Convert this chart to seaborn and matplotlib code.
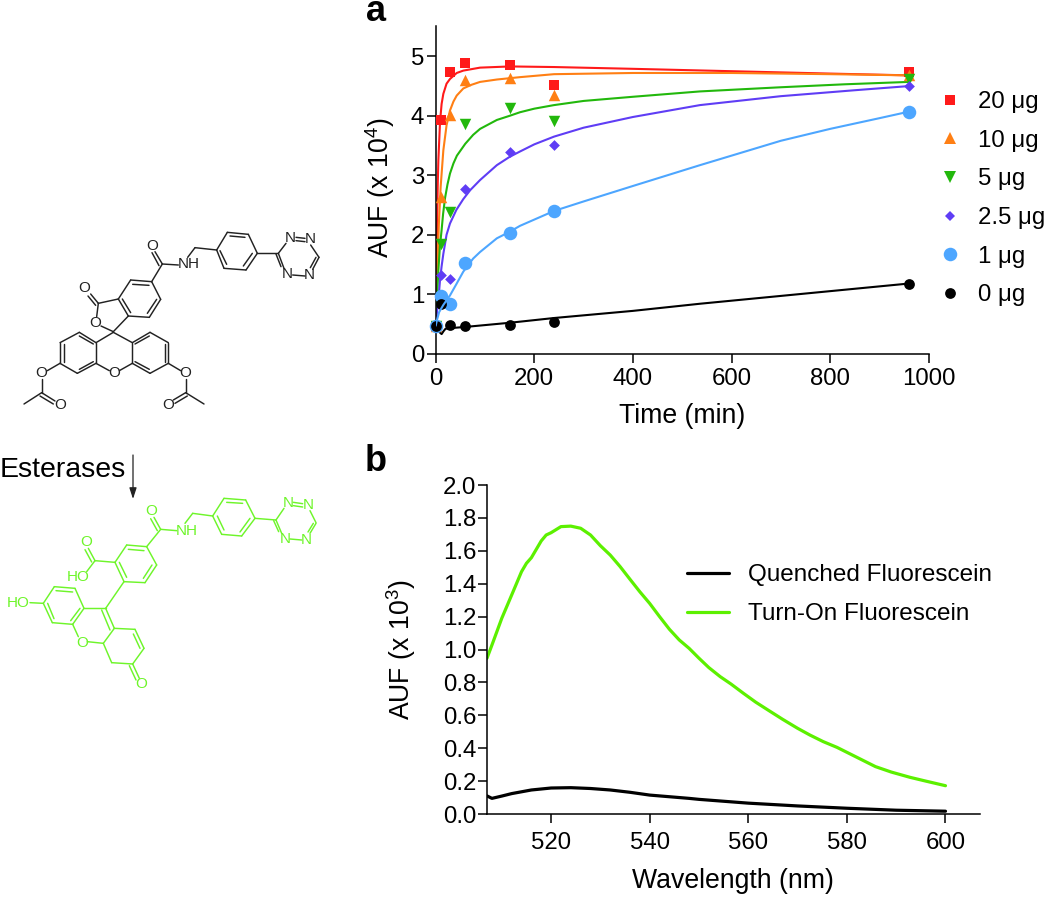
import matplotlib
matplotlib.use("Agg")
import matplotlib.pyplot as plt
from matplotlib.lines import Line2D
import seaborn as sns

# panel a: measured points
times = [0, 10, 30, 60, 150, 240, 960]
doses = ["20 μg", "10 μg", "5 μg", "2.5 μg", "1 μg", "0 μg"]
vals_20 = [0.47, 3.93, 4.74, 4.88, 4.85, 4.52, 4.73]
vals_10 = [0.47, 2.63, 4.02, 4.60, 4.63, 4.35, 4.68]
vals_5 = [0.47, 1.85, 2.38, 3.86, 4.13, 3.92, 4.62]
vals_2 = [0.47, 1.33, 1.25, 2.77, 3.39, 3.51, 4.50]
vals_1 = [0.47, 0.97, 0.84, 1.53, 2.03, 2.40, 4.07]
vals_0 = [0.47, 0.84, 0.49, 0.47, 0.49, 0.53, 1.18]

# panel a: fit curves
fit_x_20 = [0, 2, 4, 5.4, 8.8, 12, 15.5, 22, 29, 42.6, 56, 90, 151, 240, 400, 600, 800, 960]
fit_y_20 = [0.47, 1.7, 2.8, 3.25, 3.9, 4.2, 4.37, 4.54, 4.62, 4.72, 4.76, 4.81, 4.83, 4.82, 4.79, 4.75, 4.71, 4.68]
fit_x_10 = [0, 2, 4, 6.5, 10, 15.5, 22, 29, 36, 42.6, 56, 72, 90, 124, 171, 240, 400, 600, 800, 960]
fit_y_10 = [0.47, 1.0, 1.6, 2.2, 2.8, 3.42, 3.84, 4.09, 4.24, 4.34, 4.46, 4.52, 4.57, 4.61, 4.65, 4.70, 4.72, 4.72,
            4.70, 4.68]
fit_x_5 = [0, 2.5, 5.4, 8.5, 12, 15, 19, 24, 29, 36, 43, 60, 76, 90, 124, 150, 171, 200, 240, 300, 400, 536, 700,
           830, 960]
fit_y_5 = [0.47, 0.9, 1.4, 1.8, 2.08, 2.35, 2.62, 2.85, 3.03, 3.2, 3.33, 3.53, 3.68, 3.78, 3.93, 4.0, 4.06, 4.12,
           4.18, 4.25, 4.32, 4.41, 4.48, 4.53, 4.57]
fit_x_2 = [0, 2.5, 5.4, 8.8, 12, 15.5, 22, 29, 42, 56, 70, 90, 124, 150, 171, 200, 240, 300, 400, 536, 700, 850, 960]
fit_y_2 = [0.47, 0.7, 0.9, 1.24, 1.47, 1.68, 2.0, 2.19, 2.42, 2.6, 2.75, 2.92, 3.17, 3.31, 3.4, 3.52, 3.65, 3.8,
           3.98, 4.18, 4.33, 4.43, 4.50]
fit_x_1 = [0, 3, 7, 15.5, 29, 42.6, 56, 76, 90, 124, 150, 171, 240, 300, 400, 536, 600, 700, 800, 900, 960]
fit_y_1 = [0.47, 0.58, 0.7, 0.82, 0.98, 1.18, 1.38, 1.6, 1.71, 1.94, 2.05, 2.15, 2.40, 2.56, 2.82, 3.17, 3.33, 3.58,
           3.78, 3.96, 4.07]
fit_x_0 = [0, 3, 8, 12, 16, 20, 30, 60, 150, 240, 400, 536, 960]
fit_y_0 = [0.47, 0.42, 0.36, 0.33, 0.38, 0.42, 0.43, 0.45, 0.52, 0.60, 0.72, 0.84, 1.18]

# panel b: spectra
wl_on = [507, 508, 510, 512, 514, 515, 516, 518, 519, 520, 522, 524, 526, 528, 530, 532, 534, 536, 538, 540,
         542, 544, 546, 548, 550, 552, 554.3, 556.5, 559, 561.5, 564, 567, 570, 572.5, 575.2, 578, 580.4, 583,
         585.8, 589, 592.8, 596, 600]
auf_on = [0.947, 1.027, 1.19, 1.331, 1.473, 1.524, 1.558, 1.66, 1.696, 1.71, 1.747, 1.75, 1.737, 1.696, 1.631,
          1.574, 1.504, 1.427, 1.351, 1.28, 1.2, 1.123, 1.058, 1.007, 0.947, 0.89, 0.835, 0.79, 0.734, 0.68,
          0.632, 0.575, 0.521, 0.48, 0.44, 0.405, 0.369, 0.33, 0.288, 0.255, 0.223, 0.2, 0.172]
wl_off = [507, 508, 510, 512, 514, 516, 518, 520, 524, 528, 532, 536, 540, 544, 548, 550, 560, 570, 580, 590, 600]
auf_off = [0.11, 0.095, 0.109, 0.124, 0.135, 0.146, 0.152, 0.158, 0.16, 0.155, 0.146, 0.132, 0.115, 0.105,
           0.095, 0.089, 0.066, 0.049, 0.035, 0.023, 0.017]

RED = "#ff1a1a"
ORANGE = "#ff7f14"
GREEN = "#22b80c"
VIOLET = "#5f3df5"
SKY = "#4da6ff"
LIME = "#5cf000"
SCHEME_LIME = "#6ef52a"
DARK = "#222222"

sns.set_theme(style="ticks")
plt.rcParams["font.family"] = ["Liberation Sans", "DejaVu Sans"]
plt.rcParams["mathtext.default"] = "regular"
plt.rcParams["axes.linewidth"] = 1.1
TICK = 17.3
LABEL = 19.2

W, H = 1050, 897
fig = plt.figure(figsize=(W / 100, H / 100), dpi=100)


def box(left, right, top, bottom):
    return [left / W, 1 - bottom / H, (right - left) / W, (bottom - top) / H]


# ------- molecule drawings, overlay in zoomed pixel units -------
ax_bg = fig.add_axes([0, 0, 1, 1])
ax_bg.set_xlim(0, W)
ax_bg.set_ylim(H, 0)
ax_bg.axis("off")

top_bonds = [
    (835, 160, 858, 130), (888, 112, 915, 115), (888, 122, 915, 125), (932, 135, 957, 172), (957, 172, 938, 208),
    (948, 172, 931, 203), (915, 228, 878, 225), (852, 205, 835, 160), (843, 200, 828, 162),
    (650, 150, 682, 97), (682, 97, 745, 103), (745, 103, 772, 160), (772, 160, 738, 210), (738, 210, 672, 205),
    (672, 205, 650, 150), (690, 108, 735, 112), (757, 160, 730, 198), (680, 193, 660, 152),
    (772, 160, 835, 160), (650, 150, 585, 143), (585, 143, 563, 172), (487, 192, 535, 195),
    (487, 192, 465, 155), (477, 197, 456, 158), (487, 192, 455, 245),
    (455, 245, 392, 240), (392, 240, 355, 297), (355, 297, 385, 348), (385, 348, 448, 352), (448, 352, 482, 298),
    (482, 298, 455, 245), (398, 253, 447, 256), (367, 297, 392, 338), (470, 298, 442, 340),
    (355, 297, 295, 310), (295, 310, 272, 282), (287, 316, 264, 288), (295, 310, 290, 350), (303, 378, 340, 395),
    (385, 348, 340, 395),
    (340, 397, 288, 428), (288, 428, 238, 397), (238, 397, 180, 428), (180, 428, 180, 490), (180, 490, 232, 520),
    (232, 520, 288, 490), (288, 490, 288, 428), (288, 490, 328, 512), (358, 512, 397, 490), (397, 490, 397, 428),
    (397, 428, 340, 397), (397, 428, 450, 397), (450, 397, 505, 428), (505, 428, 505, 490), (505, 490, 450, 520),
    (450, 520, 397, 490), (238, 408, 280, 432), (192, 432, 192, 485), (238, 508, 280, 485), (405, 432, 448, 408),
    (494, 432, 494, 485), (405, 485, 448, 508),
    (180, 490, 142, 512), (125, 537, 125, 578), (125, 578, 72, 612), (125, 578, 165, 603), (120, 588, 160, 612),
    (505, 490, 542, 512), (557, 537, 557, 578), (557, 578, 612, 612), (557, 578, 520, 600), (562, 588, 525, 610),
]
top_atoms = [
    (872, 115, "N"), (932, 118, "N"), (928, 225, "N"), (862, 222, "N"), (567, 193, "NH"), (458, 137, "O"),
    (253, 265, "O"), (287, 370, "O"), (343, 520, "O"), (125, 520, "O"), (180, 615, "O"), (557, 520, "O"),
    (505, 615, "O"),
]
low_bonds = [
    (828, 240, 852, 205), (880, 187, 908, 191), (880, 197, 908, 201), (930, 212, 948, 248), (948, 250, 930, 280),
    (940, 250, 924, 276), (905, 300, 870, 297), (845, 280, 828, 240), (836, 275, 821, 242),
    (638, 228, 672, 175), (672, 175, 737, 180), (737, 180, 765, 235), (765, 235, 725, 288), (725, 288, 665, 283),
    (665, 283, 638, 228), (680, 187, 728, 190), (750, 235, 720, 276), (672, 270, 652, 228),
    (765, 235, 828, 240), (638, 228, 578, 220), (578, 220, 555, 250), (482, 268, 530, 272),
    (482, 268, 462, 232), (472, 272, 452, 236), (482, 268, 440, 320),
    (440, 320, 380, 315), (380, 315, 345, 367), (345, 367, 372, 425), (372, 425, 435, 428), (435, 428, 470, 375),
    (470, 375, 440, 320), (385, 328, 432, 332), (358, 367, 380, 412), (456, 375, 430, 415),
    (372, 425, 317, 505), (345, 367, 285, 362), (285, 362, 265, 325), (275, 366, 255, 329), (285, 362, 260, 395),
    (90, 488, 130, 490), (130, 490, 163, 440), (163, 440, 225, 445), (225, 445, 252, 505), (252, 505, 218, 553),
    (218, 553, 157, 548), (157, 548, 130, 490), (168, 452, 218, 456), (240, 505, 212, 542), (162, 536, 143, 490),
    (317, 505, 252, 505), (218, 553, 235, 590), (262, 605, 310, 610), (317, 505, 343, 565), (305, 510, 330, 570),
    (343, 565, 310, 610), (343, 565, 405, 568), (405, 568, 432, 625), (400, 582, 420, 625), (432, 625, 398, 672),
    (398, 672, 335, 668), (335, 668, 310, 610), (398, 672, 418, 715), (388, 677, 408, 720),
]
low_atoms = [
    (865, 190, "N"), (925, 195, "N"), (918, 300, "N"), (855, 297, "N"), (560, 273, "NH"), (453, 212, "O"),
    (258, 305, "O"), (235, 412, "HO"), (55, 488, "HO"), (247, 608, "O"), (425, 732, "O"),
]

for x0, y0, x1, y1 in top_bonds:
    ax_bg.plot([x0 / 3, x1 / 3], [200 + y0 / 3, 200 + y1 / 3], color=DARK, lw=1.05, solid_capstyle="round")
for x0, y0, s in top_atoms:
    ax_bg.text(x0 / 3, 200 + y0 / 3, s, ha="center", va="center", fontsize=11, color=DARK)
for x0, y0, x1, y1 in low_bonds:
    ax_bg.plot([x0 / 3, x1 / 3], [440 + y0 / 3, 440 + y1 / 3], color=SCHEME_LIME, lw=1.05, solid_capstyle="round")
for x0, y0, s in low_atoms:
    ax_bg.text(x0 / 3, 440 + y0 / 3, s, ha="center", va="center", fontsize=11, color=SCHEME_LIME)

ax_bg.text(0, 477, "Esterases", ha="left", va="baseline", fontsize=20.5, color="black")
ax_bg.annotate("", xy=(133, 499), xytext=(133, 455),
               arrowprops=dict(arrowstyle="-|>,head_width=0.18,head_length=0.55", color=DARK, lw=0.9,
                               shrinkA=0, shrinkB=0))
ax_bg.text(376, 21, "a", ha="center", va="baseline", fontsize=26, fontweight="bold", color="black")
ax_bg.text(376, 471, "b", ha="center", va="baseline", fontsize=26, fontweight="bold", color="black")

# ------- panel a -------
ax_a = fig.add_axes(box(435.7, 928.7, 26, 353.7))
ax_a.patch.set_alpha(0)
series = [
    (vals_20, fit_x_20, fit_y_20, RED, "s", 60, 2),
    (vals_10, fit_x_10, fit_y_10, ORANGE, "^", 68, 2),
    (vals_5, fit_x_5, fit_y_5, GREEN, "v", 68, 2),
    (vals_2, fit_x_2, fit_y_2, VIOLET, "D", 30, 2),
    (vals_1, fit_x_1, fit_y_1, SKY, "o", 95, 4),
    (vals_0, fit_x_0, fit_y_0, "black", "o", 60, 2),
]
handles = []
for (vals, fx, fy, col, mk, size, line_z), dose in zip(series, doses):
    sns.lineplot(x=fx, y=fy, color=col, lw=1.5, ax=ax_a, estimator=None, sort=False, zorder=line_z)
    sns.scatterplot(x=times, y=vals, color=col, marker=mk, s=size, linewidth=0, ax=ax_a, clip_on=False, zorder=3)
    handles.append(Line2D([], [], ls="", marker=mk, color=col, markeredgewidth=0, markersize=size ** 0.5, label=dose))

ax_a.set_xlim(0, 1000)
ax_a.set_ylim(0, 5.51)
ax_a.set_xticks([0, 200, 400, 600, 800, 1000])
ax_a.set_yticks([0, 1, 2, 3, 4, 5])
ax_a.tick_params(labelsize=TICK, length=6.3, width=1.1, color="black", labelcolor="black")
ax_a.tick_params(axis="x", pad=4)
ax_a.tick_params(axis="y", pad=2)
ax_a.set_xlabel("Time (min)", fontsize=LABEL, color="black")
ax_a.set_ylabel("AUF (x 10$^4$)", fontsize=LABEL, color="black")
ax_a.xaxis.set_label_coords((682 - 435.7) / 493, -(403 - 353.7) / 327.7)
ax_a.yaxis.set_label_coords(-(436 - 397) / 493, (353.7 - 188) / 327.7)
ax_a.spines["left"].set_color("black")
ax_a.spines["bottom"].set_color("black")
sns.despine(ax=ax_a)
ax_a.legend(handles=handles, loc="upper left", bbox_to_anchor=(943 / W, 1 - 91 / H), bbox_transform=fig.transFigure,
            frameon=False, fontsize=17.3, labelspacing=0.695, handletextpad=0.85, handlelength=0.6, borderpad=0,
            borderaxespad=0, labelcolor="black")

# ------- panel b -------
ax_b = fig.add_axes(box(487, 980, 485, 814))
ax_b.patch.set_alpha(0)
sns.lineplot(x=wl_off, y=auf_off, color="black", lw=2.3, ax=ax_b, label="Quenched Fluorescein", estimator=None,
             sort=False)
sns.lineplot(x=wl_on, y=auf_on, color=LIME, lw=2.3, ax=ax_b, label="Turn-On Fluorescein", estimator=None,
             sort=False)
ax_b.set_xlim(507, 607)
ax_b.set_ylim(0, 2)
ax_b.set_xticks([520, 540, 560, 580, 600])
ax_b.set_yticks([0, 0.2, 0.4, 0.6, 0.8, 1.0, 1.2, 1.4, 1.6, 1.8, 2.0])
ax_b.set_yticklabels(["0.0", "0.2", "0.4", "0.6", "0.8", "1.0", "1.2", "1.4", "1.6", "1.8", "2.0"])
ax_b.tick_params(labelsize=TICK, length=6.3, width=1.1, color="black", labelcolor="black")
ax_b.tick_params(axis="x", pad=7)
ax_b.tick_params(axis="y", pad=1.5)
ax_b.set_xlabel("Wavelength (nm)", fontsize=LABEL, color="black")
ax_b.set_ylabel("AUF (x 10$^3$)", fontsize=LABEL, color="black")
ax_b.xaxis.set_label_coords((733 - 487) / 493, -(868 - 814) / 329)
ax_b.yaxis.set_label_coords(-(487 - 418) / 493, (814 - 650) / 329)
ax_b.spines["left"].set_color("black")
ax_b.spines["bottom"].set_color("black")
sns.despine(ax=ax_b)
ax_b.legend(loc="upper left", bbox_to_anchor=(687 / W, 1 - 564 / H), bbox_transform=fig.transFigure, frameon=False,
            fontsize=17.45, labelspacing=0.71, handletextpad=0.75, handlelength=1.75, borderpad=0, borderaxespad=0,
            labelcolor="black")

fig.savefig("out.png", dpi=100, facecolor="white")
